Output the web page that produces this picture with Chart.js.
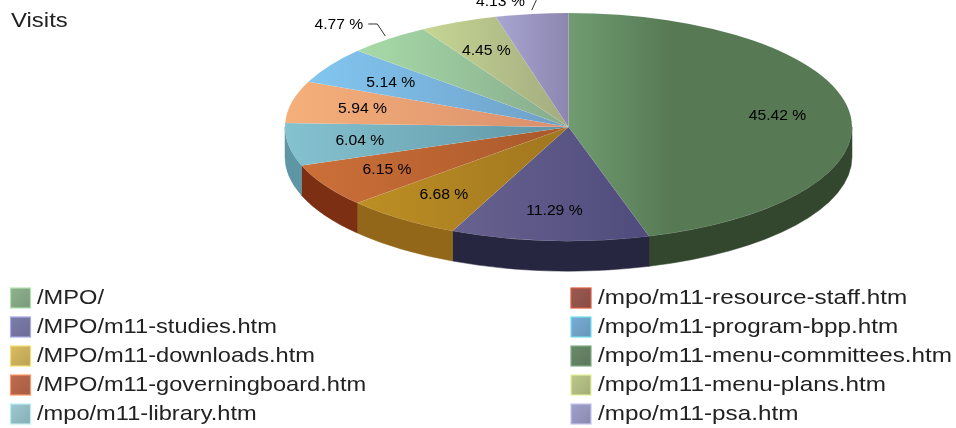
<!DOCTYPE html>
<html><head><meta charset="utf-8">
<style>html,body{margin:0;padding:0;background:#fff;overflow:hidden}
#wrap{position:absolute;left:0;top:0;width:956px;height:428px}
canvas{filter:blur(0.45px)}</style>
<script src="https://cdn.jsdelivr.net/npm/chart.js@4/dist/chart.umd.min.js"></script>
</head><body><div id="wrap"><canvas id="c" width="956" height="428"></canvas></div>
<script>
const chartTitle = 'Visits';
const categories = ['/MPO/','/MPO/m11-studies.htm','/MPO/m11-downloads.htm','/MPO/m11-governingboard.htm','/mpo/m11-library.htm','/mpo/m11-resource-staff.htm','/mpo/m11-program-bpp.htm','/mpo/m11-menu-committees.htm','/mpo/m11-menu-plans.htm','/mpo/m11-psa.htm'];
const shares = [4.77,11.29,6.68,6.15,6.04,5.94,5.14,45.42,4.45,4.13];
const outsideLabels = ['/MPO/','/mpo/m11-psa.htm'];
const faceLight = ['#a8dba8','#67628f','#bd8f24','#cc7039','#85c2d0','#f5b07a','#82c6f0','#709c70','#c6d693','#a8a6d2'];
const faceDark  = ['#86ab8c','#4f4b7c','#a0761f','#a9582b','#5f95a5','#d98e6b','#6e9fc6','#577a55','#a3ab80','#8c86af'];
const wallColor = ['#6d8f6d','#272640','#936719','#7d2f14','#5f96a5','#b06c4c','#5c88a8','#33472f','#8a9060','#6d688f'];
const swatchFill = ['#8fb38f','#7d7dac','#d9bc62','#c06c4e','#9ccad2','#9c5a50','#78aed6','#6a8a6a','#bcc98a','#a0a0cc'];
const swatchEdge = ['#b0e4b0','#aaaae6','#f4e070','#ff9a68','#bceef2','#dc5a42','#72e2f2','#80b080','#e6f096','#c4c4f0'];

const order = categories.map((_, i) => i).sort((a, b) => shares[b] - shares[a]);
const sliceIdx = i => order[i];
const RX = 283.5, RY = 114, DEPTH = 30;

function stretchedText(ctx, s, x, y, align, size, color, stretch){
  ctx.save();
  ctx.translate(x, y);
  ctx.scale(stretch, 1);
  ctx.font = size + 'px "Liberation Sans", Arial, sans-serif';
  ctx.textAlign = align; ctx.textBaseline = 'middle'; ctx.fillStyle = color;
  ctx.fillText(s, 0, 0);
  ctx.restore();
}

function faceGradient(c){
  const chart = c.chart, area = chart.chartArea;
  if (!area) return faceDark[sliceIdx(c.dataIndex)];
  const cx = (area.left + area.right) / 2;
  const total = shares.reduce((a, b) => a + b, 0);
  let before = 0;
  for (let i = 0; i < c.dataIndex; i++) before += shares[order[i]];
  const a0 = -Math.PI/2 + before/total*2*Math.PI;
  const a1 = a0 + shares[order[c.dataIndex]]/total*2*Math.PI;
  let minC = Math.min(Math.cos(a0), Math.cos(a1), 0), maxC = Math.max(Math.cos(a0), Math.cos(a1), 0);
  if (a0 < 0 && a1 > 0) maxC = 1;
  if (a0 < Math.PI && a1 > Math.PI) minC = -1;
  const x0 = cx + RX*minC, x1 = cx + RX*maxC;
  const fade = maxC > 0.9 ? 0.36 : 1;
  const g = chart.ctx.createLinearGradient(x0, 0, x1, 0);
  const k = sliceIdx(c.dataIndex);
  g.addColorStop(0, faceLight[k]);
  g.addColorStop(fade, faceDark[k]);
  g.addColorStop(1, faceDark[k]);
  return g;
}

const pie3d = {
  id: 'pie3d',
  beforeDatasetsDraw(chart){
    const ctx = chart.ctx, arcs = chart.getDatasetMeta(0).data;
    arcs.forEach((arc, i) => {
      const a0 = Math.max(arc.startAngle, 0), a1 = Math.min(arc.endAngle, Math.PI);
      if (a1 <= a0) return;
      ctx.beginPath();
      ctx.ellipse(arc.x, arc.y, RX, RY, 0, a0, a1);
      ctx.ellipse(arc.x, arc.y + DEPTH, RX, RY, 0, a1, a0, true);
      ctx.closePath();
      ctx.fillStyle = wallColor[sliceIdx(i)];
      ctx.strokeStyle = wallColor[sliceIdx(i)];
      ctx.lineWidth = 0.5;
      ctx.fill(); ctx.stroke();
    });
    const cy = arcs[0].y;
    ctx.save();
    ctx.translate(0, cy);
    ctx.scale(1, RY / RX);
    ctx.translate(0, -cy);
  },
  afterDatasetsDraw(chart){
    const ctx = chart.ctx, arcs = chart.getDatasetMeta(0).data;
    ctx.restore();
    arcs.forEach((arc, i) => {
      const k = sliceIdx(i), mid = (arc.startAngle + arc.endAngle) / 2;
      const label = shares[k].toFixed(2) + ' %';
      const cs = Math.cos(mid), sn = Math.sin(mid);
      if (outsideLabels.includes(categories[k])) {
        const px = arc.x + RX*cs, py = arc.y + RY*sn;
        ctx.strokeStyle = '#333'; ctx.lineWidth = 1; ctx.beginPath();
        if (cs < -0.4) {
          ctx.moveTo(px - 3, py - 3); ctx.lineTo(px - 11, py - 15); ctx.lineTo(px - 20, py - 15);
          ctx.stroke();
          stretchedText(ctx, label, px - 25, py - 14, 'right', 14, '#000', 1.12);
        } else {
          ctx.moveTo(px, py - 4); ctx.lineTo(px + 5, py - 15);
          ctx.stroke();
          stretchedText(ctx, label, px - 7, py - 12, 'right', 14, '#000', 1.12);
        }
      } else {
        stretchedText(ctx, label, arc.x + 0.745*RX*cs, arc.y + 0.73*RY*sn + 1, 'center', 14, '#000', 1.12);
      }
    });
  },
  afterDraw(chart){
    const ctx = chart.ctx;
    stretchedText(ctx, chartTitle, 11, 21, 'left', 21, '#222', 1.14);
    categories.forEach((name, i) => {
      const col = i < 5 ? 0 : 1, row = i % 5;
      const sx = col ? 571 : 10.5, ty = 298 + row*29, tx = col ? 598 : 37;
      const g = ctx.createLinearGradient(sx, ty - 10, sx + 20, ty + 10);
      g.addColorStop(0, swatchFill[i]);
      g.addColorStop(1, wallMix(swatchFill[i]));
      ctx.fillStyle = g; ctx.fillRect(sx, ty - 10, 20, 20);
      ctx.strokeStyle = swatchEdge[i]; ctx.lineWidth = 1.2;
      ctx.strokeRect(sx, ty - 10, 20, 20);
      stretchedText(ctx, name, tx, ty, 'left', 21, '#222', col ? 1.155 : 1.125);
    });
  }
};
function wallMix(hex){
  const n = parseInt(hex.slice(1), 16);
  const f = v => Math.round(v*0.86);
  return `rgb(${f(n>>16&255)},${f(n>>8&255)},${f(n&255)})`;
}

new Chart(document.getElementById('c'), {
  type: 'pie',
  data: {
    labels: order.map(i => categories[i]),
    datasets: [{ data: order.map(i => shares[i]), backgroundColor: faceGradient,
      borderWidth: 0.5, borderColor: 'rgba(255,255,255,0.12)', hoverOffset: 0 }]
  },
  options: {
    responsive: false, animation: false, radius: RX,
    layout: { padding: { left: 181, right: 0, top: 0, bottom: 174 } },
    plugins: { legend: { display: false }, title: { display: false }, tooltip: { enabled: false } }
  },
  plugins: [pie3d]
});
</script></body></html>
